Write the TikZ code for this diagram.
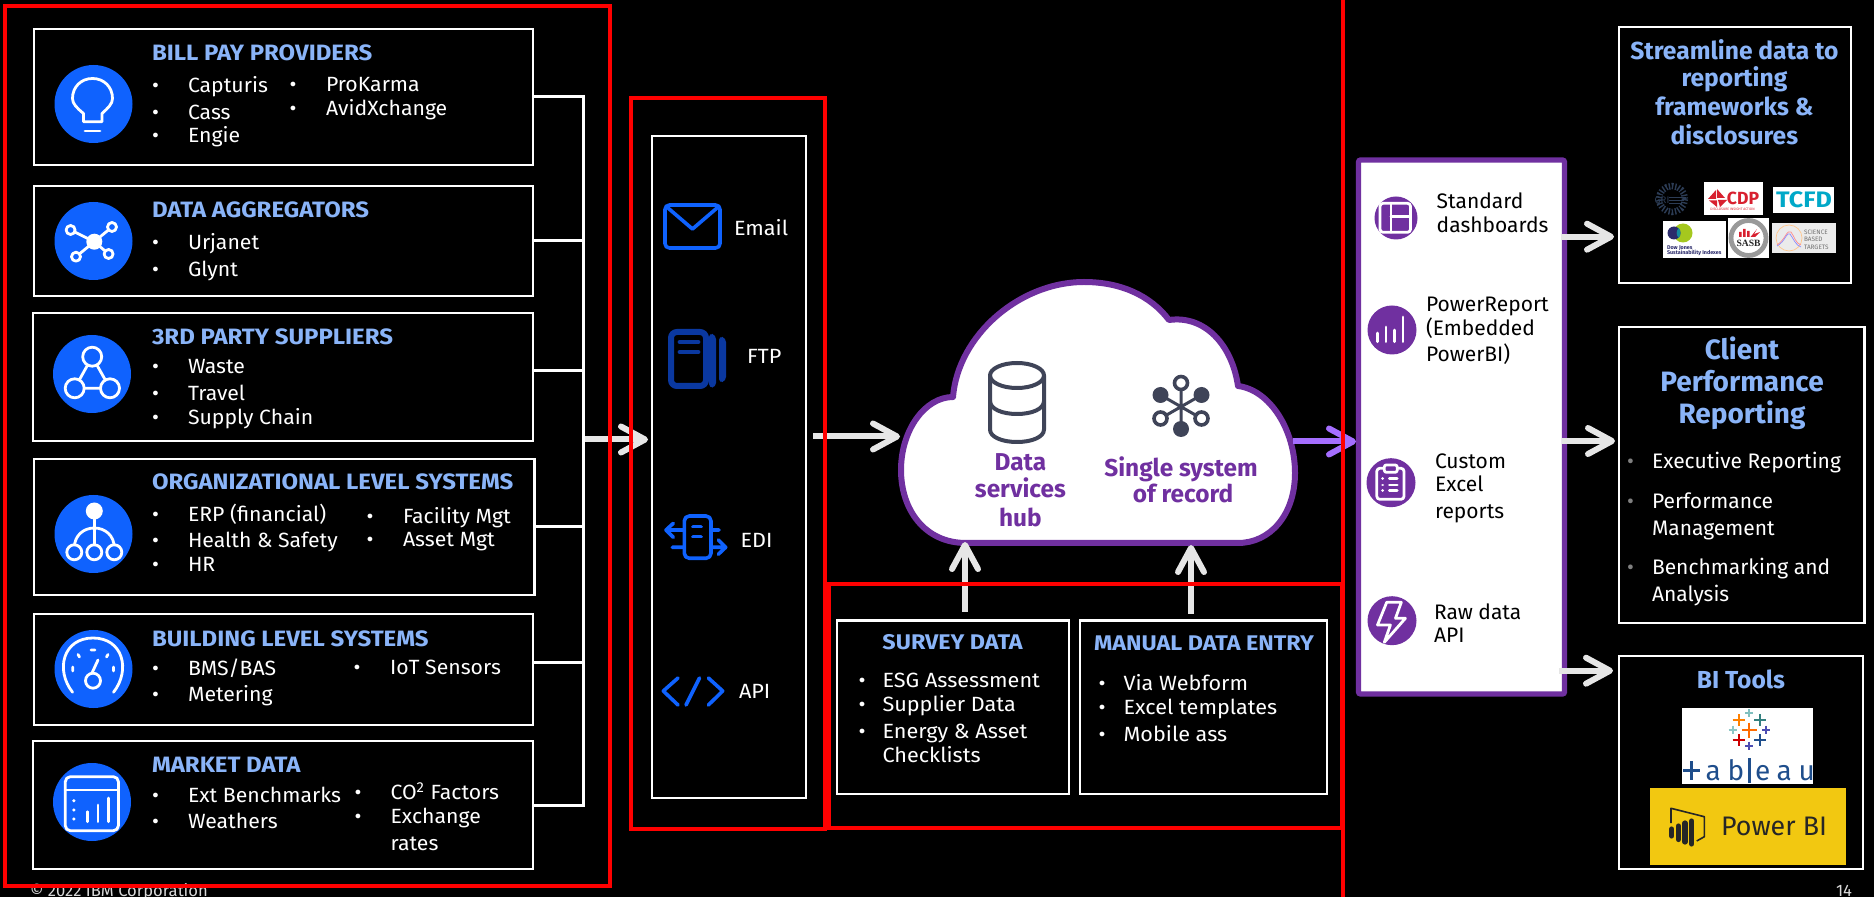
\documentclass[tikz,border=0pt]{standalone}
\usepackage{fontspec}
\usepackage{graphicx}
\setmainfont{Fira Sans}
\newfontfamily\logoserif{Liberation Serif}
\usetikzlibrary{arrows.meta}
\definecolor{hd}{HTML}{8AB4F8}
\definecolor{ibmblue}{HTML}{0F62FE}
\definecolor{ftpblue}{HTML}{0A38A0}
\definecolor{pur}{HTML}{7030A0}
\definecolor{purarrow}{HTML}{A56EFF}
\definecolor{slateicon}{HTML}{3F4458}
\definecolor{arrowgrey}{HTML}{E6E6E6}
\definecolor{griblue}{HTML}{2C3C55}
\definecolor{cdpred}{HTML}{D8202F}
\definecolor{tcfdblue}{HTML}{00A8C8}
\definecolor{pbiyellow}{HTML}{F2C811}
\definecolor{tabnavy}{HTML}{1F4E8C}
\definecolor{djnavy}{HTML}{2B2B6B}
\definecolor{djgreen}{HTML}{A5C81E}
\definecolor{djteal}{HTML}{138A9E}
\newcount\licount
\tikzset{
  every node/.style={inner sep=0pt,outer sep=0pt,font=\fontsize{10.5}{12}\selectfont,text=white},
  card/.style={draw=white,line width=1.1pt,anchor=north west,fill=black},
  redframe/.style={draw=red,line width=2pt},
  listtxt/.style={anchor=west,text height=7.4pt,text depth=0pt,font=\fontsize{10.3}{12}\selectfont\addfontfeature{FakeStretch=1.03}},
  headtxt/.style={anchor=west,text height=7.6pt,text depth=0pt,text=hd,font=\fontsize{11.1}{12}\selectfont\bfseries\addfontfeature{FakeStretch=1.08}},
  headc/.style={anchor=center,text height=7.2pt,text depth=0pt,text=hd,font=\fontsize{10.6}{12}\selectfont\bfseries\addfontfeature{FakeStretch=1.1}},
  midtxt/.style={anchor=west,text height=7.1pt,text depth=0pt,font=\fontsize{10.3}{12}\selectfont\addfontfeature{FakeStretch=1.05}},
  rtxt/.style={anchor=west,text height=7.3pt,text depth=0pt,font=\fontsize{10.5}{12}\selectfont},
  blacktxt/.style={anchor=west,text height=7.3pt,text depth=0pt,text=black,font=\fontsize{10.5}{12}\selectfont},
  titletxt/.style={anchor=center,text height=8.6pt,text depth=0pt,text=hd,font=\fontsize{12.3}{14}\selectfont\bfseries},
  bigtitle/.style={anchor=center,text height=9.8pt,text depth=0pt,text=hd,font=\fontsize{14}{16}\selectfont\bfseries},
  cloudtxt/.style={anchor=center,text height=8.4pt,text depth=0pt,text=pur,font=\fontsize{12.2}{14}\selectfont\bfseries},
  foot/.style={text=white!85!black,text height=6pt,text depth=0pt,font=\fontsize{8.3}{10}\selectfont},
  link/.style={draw=white,line width=1.5pt},
  flow/.style={draw=arrowgrey,line width=3pt,-{Straight Barb[length=12pt,width=13pt,line width=3pt,round]}},
  flowp/.style={draw=purarrow,line width=3pt,-{Straight Barb[length=12pt,width=13pt,line width=3pt,round]}},
  wicon/.style={draw=white,line width=1.4pt,line cap=round,line join=round},
  bicon/.style={draw=ibmblue,line width=1.8pt,line cap=round,line join=round},
  sicon/.style={draw=slateicon,line width=2pt,line cap=round,line join=round},
  bluedot/.style={circle,fill=ibmblue,minimum size=39pt},
  purdot/.style={circle,fill=pur},
}
\newcommand{\li}[4]{\global\advance\licount by 1
  \node[listtxt,anchor=center] (blt\the\licount) at (#1,#3) {•};
  \node[listtxt] (itm\the\licount) at (#2,#3) {#4};}
\newcommand{\lm}[4]{\global\advance\licount by 1
  \node[midtxt,anchor=center] (blt\the\licount) at (#1,#3) {•};
  \node[midtxt] (itm\the\licount) at (#2,#3) {#4};}
\newcommand{\cardbox}[5]{\node[card,minimum width={(#4-#2)*0.5pt},minimum height={(#5-#3)*0.5pt}] (#1) at (#2,#3) {};}
\newcommand{\plusmark}[4]{\draw[#4,line width=1.15pt] (#1-#3,#2) -- (#1+#3,#2) (#1,#2-#3) -- (#1,#2+#3);}
\begin{document}
\begin{tikzpicture}[x=0.5pt,y=-0.5pt]
\useasboundingbox (0,0) rectangle (1874,897);
\fill[black] (0,0) rectangle (1874,897);

% footer (under the red frame)
\node[foot,anchor=west] (copy) at (30,890) {© 2022 IBM Corporation};
\node[foot,anchor=center] (pageno) at (1844,890) {14};

% source cards
\cardbox{b1}{34}{29}{533}{165}
\cardbox{b2}{34}{186}{533}{296}
\cardbox{b3}{33}{313}{533}{441}
\cardbox{b4}{34}{459}{534.5}{595}
\cardbox{b5}{34}{614}{533}{725}
\cardbox{b6}{33}{741}{533}{869}

% bus
\coordinate (bust) at (583,95);
\coordinate (busb) at (583,806.5);
\draw[link] (bust) -- (busb);
\draw[link] (b1.east) -- (b1.east -| bust);
\draw[link] (b2.east) -- (b2.east -| bust);
\draw[link] ([yshift=3.1pt]b3.east) -- ([yshift=3.1pt]b3.east -| bust);
\draw[link] (b4.east) -- (b4.east -| bust);
\draw[link] ([yshift=3.7pt]b5.east) -- ([yshift=3.7pt]b5.east -| bust);
\draw[link] (b6.east) -- (b6.east -| bust);

% blue icon discs
\node[bluedot] (d1) at (93.5,104) {};
\node[bluedot] (d2) at (93.5,241) {};
\node[bluedot] (d3) at (92,374) {};
\node[bluedot] (d4) at (93.5,534) {};
\node[bluedot] (d5) at (93.5,669) {};
\node[bluedot] (d6) at (92,802) {};

% bulb
\draw[wicon] (83.5,113.5) .. controls (77,108) and (72.5,104) .. (72.5,98.5) .. controls (72.5,87) and (81,78.5) .. (92.5,78.5) .. controls (104,78.5) and (112.5,87) .. (112.5,98.5) .. controls (112.5,104) and (108,108) .. (102,113.5) -- (102,121.7) -- (83.5,121.7) -- cycle;
\draw[wicon] (85,131) -- (100,131);
% hub
\draw[wicon] (70.6,230) -- (94.3,241.7) -- (112,227) (76,256.7) -- (94.3,241.7) -- (108.6,254);
\fill[white] (94.3,241.7) circle[radius=8];
\foreach \p in {(70.6,230),(112,227),(76,256.7),(108.6,254)} \draw[wicon,fill=ibmblue] \p circle[radius=4.5];
% triangle
\draw[wicon] (92.2,356.7) -- (74.7,388.3) -- (110,388.3) -- cycle;
\foreach \p in {(92.2,356.7),(74.7,388.3),(110,388.3)} \draw[wicon,fill=ibmblue] \p circle[radius=9.5];
% tree
\draw[wicon] (94.3,511) -- (94.3,548);
\draw[wicon] (74.3,548) .. controls (74.3,535) and (84,528) .. (94.3,528) .. controls (104.6,528) and (114.3,535) .. (114.3,548);
\fill[white] (94.3,511) circle[radius=8.5];
\foreach \p in {(74.3,552.3),(94.3,552.3),(114.3,552.3)} \draw[wicon,fill=ibmblue] \p circle[radius=7.5];
% gauge
\draw[wicon] (72.6,692.3) .. controls (55,670) and (63,638) .. (93,638) .. controls (123,638) and (131,670) .. (113.5,692.3);
\draw[wicon] (72.7,667) -- (72.7,671) (78,654.5) -- (79.5,657) (91,650) -- (95,650) (106.5,657) -- (108,654.5) (113.5,667) -- (113.5,671);
\draw[wicon] (92,673) -- (98,660);
\draw[wicon] (93,680.7) circle[radius=7.5];
% dashboard
\draw[wicon,rounded corners=2.5pt] (65.3,776.7) rectangle (118.4,830.7);
\draw[wicon] (65.3,790) -- (118.4,790);
\draw[wicon] (87.8,821.7) -- (87.8,811.7) (98,821.7) -- (98,805) (108.2,821.7) -- (108.2,798);
\foreach \yy in {800.7,810,819} \fill[white] (73.9,\yy) circle[radius=1.7];

% card texts
\node[headtxt] (h1) at (152,52.7) {BILL PAY PROVIDERS};
\li{155.5}{188}{84.7}{Capturis}
\li{155.5}{188}{111.7}{Cass}
\li{155.5}{188}{135}{Engie}
\li{293}{326}{84}{ProKarma}
\li{293}{326}{108}{AvidXchange}
\node[headtxt] (h2) at (152,210) {DATA AGGREGATORS};
\li{155.5}{188}{242}{Urjanet}
\li{155.5}{188}{269}{Glynt}
\node[headtxt] (h3) at (152,337) {3RD PARTY SUPPLIERS};
\li{155.5}{188}{365.7}{Waste}
\li{155.5}{188}{392.7}{Travel}
\li{155.5}{188}{416.7}{Supply Chain}
\node[headtxt] (h4) at (152,481.7) {ORGANIZATIONAL LEVEL SYSTEMS};
\li{155.5}{188}{513.7}{ERP (financial)}
\li{155.5}{188}{539.7}{Health \& Safety}
\li{155.5}{188}{563.7}{HR}
\li{370}{403}{516}{Facility Mgt}
\li{370}{403}{539}{Asset Mgt}
\node[headtxt] (h5) at (152,639) {BUILDING LEVEL SYSTEMS};
\li{155.5}{188}{667.7}{BMS/BAS}
\li{155.5}{188}{694}{Metering}
\li{357}{390}{667}{IoT Sensors}
\node[headtxt] (h6) at (152,765) {MARKET DATA};
\li{155.5}{188}{795}{Ext Benchmarks}
\li{155.5}{188}{821}{Weathers}
\li{358}{390.6}{792}{CO\textsuperscript{2} Factors}
\li{358}{390.6}{816}{Exchange}
\node[listtxt] (rates) at (390.6,843) {rates};

% channels
\cardbox{chan}{652}{136}{806}{798}
\draw[bicon,rounded corners=2.2pt] (665,205) rectangle (720,248);
\draw[bicon] (668,208) -- (692.5,229) -- (717,208);
\node[midtxt] (email) at (734,228) {Email};
\fill[ftpblue,rounded corners=2pt] (709,333) -- (716,335) -- (716,387) -- (709,388) -- cycle;
\fill[ftpblue,rounded corners=2pt] (719,336) -- (726,338) -- (726,381) -- (719,383) -- cycle;
\draw[draw=ftpblue,fill=black,line width=3pt,rounded corners=3pt] (671,332) rectangle (706,386);
\draw[ftpblue,line width=2.4pt,line cap=round] (680,342) -- (698,342) (680,352) -- (698,352);
\node[midtxt] (ftp) at (747,356) {FTP};
\draw[bicon,rounded corners=2.5pt] (684.3,516) rectangle (711,558.3);
\draw[bicon] (693,526.7) -- (701,526.7) (693,536.7) -- (701,536.7);
\draw[bicon] (684,530) -- (666,530) (673.3,523.3) -- (666,530) -- (673.3,537.3);
\draw[bicon] (672.3,547.3) -- (684,547.3) (711,530) -- (719,530) (711,547.3) -- (725.7,547.3) (718.3,540) -- (725.7,547.3) -- (718.3,554.3);
\node[midtxt] (edi) at (740.5,540) {EDI};
\draw[bicon] (678,678) -- (663.3,691) -- (678,705) (699.5,678) -- (686,705) (708.4,678) -- (722.7,691) -- (708.4,705);
\node[midtxt] (api) at (739,691) {API};

% cloud
\draw[draw=pur,fill=white,line width=3pt,line join=round] (966,543) .. controls (925,543) and (901,510) .. (901,470) .. controls (901,430) and (925,397) .. (953,397) .. controls (958,335) and (1020,282) .. (1084,282) .. controls (1120,282) and (1150,295) .. (1169,320) .. controls (1205,315) and (1232,345) .. (1238,386) .. controls (1270,390) and (1295,430) .. (1295,473) .. controls (1295,515) and (1270,543) .. (1238,543) -- cycle;
\coordinate (cloudW) at (900,436.5);
\coordinate (cloudE) at (1293,441.5);
\coordinate (cloudS1) at (965,542);
\coordinate (cloudS2) at (1191,545);
% database
\draw[sicon] (1017,375.5) ellipse[x radius=27,y radius=12.5];
\draw[sicon] (990,375.5) -- (990,429.5) .. controls (990,437) and (1002,442) .. (1017,442) .. controls (1032,442) and (1044,437) .. (1044,429.5) -- (1044,375.5);
\draw[sicon] (990,401) .. controls (990,409) and (1002,414) .. (1017,414) .. controls (1032,414) and (1044,409) .. (1044,401);
% graph glyph
\draw[slateicon,line width=1.5pt] (1181,383) -- (1181,429) (1160.5,395) -- (1201.5,418.5) (1160.5,418.5) -- (1201.5,395);
\foreach \p in {(1160.5,395),(1201.5,395),(1181,429)} \fill[slateicon] \p circle[radius=8];
\foreach \p in {(1181,383),(1160.5,418.5),(1201.5,418.5)} \draw[slateicon,line width=1.8pt,fill=white] \p circle[radius=6.5];
\node[cloudtxt] (c1) at (1020.4,462) {Data};
\node[cloudtxt] (c2) at (1020.4,489) {services};
\node[cloudtxt] (c3) at (1020.4,518) {hub};
\node[cloudtxt] (c4) at (1181,468) {Single system};
\node[cloudtxt] (c5) at (1183,494) {of record};

% survey, manual
\cardbox{survey}{837}{620.5}{1069}{794}
\cardbox{manual}{1080}{620.5}{1327}{794}
\node[headc] (sh) at (952.6,642) {SURVEY DATA};
\lm{862}{882.5}{680}{ESG Assessment}
\lm{862}{882.5}{704}{Supplier Data}
\lm{862}{882.5}{731}{Energy \& Asset}
\node[midtxt] (chk) at (882.5,755) {Checklists};
\node[headc] (mh) at (1204,643) {MANUAL DATA ENTRY};
\lm{1102}{1123.6}{683}{Via Webform}
\lm{1102}{1123.6}{707}{Excel templates}
\lm{1102}{1123.6}{734}{Mobile ass}

% outputs panel
\node[card,draw=pur,line width=2.6pt,rounded corners=1pt,fill=white,minimum width=103pt,minimum height=267pt] (panel) at (1358.5,160) {};
\node[purdot,minimum size=21.5pt] (p1) at (1396,218) {};
\draw[wicon,rounded corners=1.5pt] (1380,203.3) rectangle (1410.5,232.3);
\draw[wicon] (1391,203.3) -- (1391,232.3) (1391,216.7) -- (1410.5,216.7);
\node[blacktxt] (s1) at (1436.7,201) {Standard};
\node[blacktxt] (s2) at (1436.7,225.7) {dashboards};
\node[purdot,minimum size=24.5pt] (p2) at (1392,330) {};
\draw[wicon] (1377.5,341.7) -- (1377.5,333) (1386,341.7) -- (1386,327) (1394.5,341.7) -- (1394.5,330) (1403,341.7) -- (1403,317);
\node[blacktxt] (r1) at (1426,304) {PowerReport};
\node[blacktxt] (r2) at (1426,328) {(Embedded};
\node[blacktxt] (r3) at (1426,354) {PowerBI)};
\node[purdot,minimum size=24.5pt] (p3) at (1391,482.7) {};
\draw[wicon,rounded corners=1.5pt] (1376.8,468.3) rectangle (1404,499.3);
\draw[wicon,fill=pur,rounded corners=1pt] (1384.3,465) rectangle (1397.2,472.3);
\draw[wicon] (1382.6,478.3) -- (1382.7,478.3) (1389.4,478.3) -- (1397.2,478.3) (1382.6,485) -- (1382.7,485) (1389.4,485) -- (1397.2,485) (1382.6,490.7) -- (1382.7,490.7) (1389.4,490.7) -- (1397.2,490.7);
\node[blacktxt] (x1) at (1435,461) {Custom};
\node[blacktxt] (x2) at (1435,484.7) {Excel};
\node[blacktxt] (x3) at (1435,511.7) {reports};
\node[purdot,minimum size=24.5pt] (p4) at (1392,620.7) {};
\draw[wicon] (1386.7,602.3) -- (1401.3,602.3) -- (1395.5,618.3) -- (1405.4,618.3) -- (1384.3,642.3) -- (1390.4,625) -- (1377.5,625) -- cycle;
\node[blacktxt] (a1) at (1434,612) {Raw data};
\node[blacktxt] (a2) at (1434,635.7) {API};

% target boxes
\cardbox{t1}{1619}{27}{1851}{283}
\cardbox{t2}{1619}{327.3}{1864.5}{623}
\cardbox{t3}{1619}{656}{1863}{869}
\node[titletxt] (tt1) at (1734.4,51) {Streamline data to};
\node[titletxt] (tt2) at (1734.4,78) {reporting};
\node[titletxt] (tt3) at (1734.4,107) {frameworks \&};
\node[titletxt] (tt4) at (1734.4,136) {disclosures};

% GRI logo
\draw[draw=griblue,line width=3.2pt,dash pattern=on 0.7pt off 0.9pt] (1672,199) circle[radius=13];
\node[anchor=center,text=griblue,font=\fontsize{4.8}{6}\selectfont] (gri) at (1662,200.5) {GRI};
\draw[griblue,line width=0.35pt] (1669,197) -- (1686,197) (1669,200) -- (1684,200) (1669,203) -- (1682,203);
% CDP logo
\fill[white] (1704,182) rectangle (1762.7,215);
\fill[cdpred] (1708,199) -- (1716,190) -- (1716,199) -- cycle (1717,189) -- (1725,198) -- (1717,198) -- cycle (1709,200.5) -- (1717,200.5) -- (1717,207) -- cycle (1718,200) -- (1727,200) -- (1720,207) -- cycle;
\node[anchor=center,text=cdpred,font=\fontsize{8.8}{10}\selectfont\bfseries] (cdp) at (1743,198) {CDP};
\node[anchor=center,text=cdpred,font=\fontsize{1.7}{2.5}\selectfont] (cdp2) at (1732.5,209) {DISCLOSURE INSIGHT ACTION};
% TCFD logo
\fill[white] (1773,187) rectangle (1834,213);
\node[anchor=center,text=tcfdblue,font=\fontsize{11.2}{12}\selectfont\bfseries\addfontfeature{FakeStretch=1.12}] (tcfd) at (1804,200) {TCFD};
% DJSI logo
\fill[white] (1663,221) rectangle (1725.7,258);
\fill[djgreen] (1683,233) circle[radius=9.5];
\fill[djnavy] (1674,233) circle[radius=6.5];
\fill[djteal] (1678.7,228) .. controls (1681,231) and (1681,235) .. (1678.7,238) .. controls (1676,235) and (1676,231) .. (1678.7,228);
\node[anchor=west,text=djnavy,font=\fontsize{2.7}{3}\selectfont\bfseries] (dj1) at (1667,248.5) {Dow Jones};
\node[anchor=west,text=djnavy,font=\fontsize{2.7}{3}\selectfont\bfseries] (dj2) at (1667,252.5) {Sustainability Indexes};
% SASB logo
\fill[white] (1728,218) rectangle (1769,258);
\draw[black!40,line width=2.4pt] (1748.5,238) circle[radius=17.5];
\fill[cdpred] (1739,237) rectangle (1741.5,232) (1743,237) rectangle (1745.5,229) (1747,237) rectangle (1749.5,231);
\fill[cdpred] (1750.5,237) -- (1757,229) -- (1754,234) -- (1760,232) -- (1755,237) -- cycle;
\node[anchor=center,text=black!85,font=\fontsize{4.8}{5}\selectfont\logoserif\bfseries] (sasb) at (1748.5,243) {SASB};
% SBT logo
\fill[white!92!black] (1772,223) rectangle (1836,253);
\draw[orange!45,line width=0.35pt] (1789,238) circle[radius=13];
\draw[red!45,line width=0.35pt] (1777,245) .. controls (1785,240) and (1787,229) .. (1791,232) .. controls (1794,236) and (1796,244) .. (1801,245);
\draw[blue!45,line width=0.35pt] (1777,246) .. controls (1785,242) and (1787,231) .. (1790,234) .. controls (1793,238) and (1796,246) .. (1801,247);
\node[anchor=west,text=black!55,align=left,font=\fontsize{3.2}{3.7}\selectfont] (sbt) at (1804,239.5) {SCIENCE\\BASED\\TARGETS};

\node[bigtitle] (ct1) at (1742,350) {Client};
\node[bigtitle] (ct2) at (1742,382) {Performance};
\node[bigtitle] (ct3) at (1742,414) {Reporting};
\node[rtxt,anchor=center,text=black!50!white] (cb1) at (1630.5,461) {•};
\node[rtxt,anchor=center,text=black!50!white] (cb2) at (1630.5,501.7) {•};
\node[rtxt,anchor=center,text=black!50!white] (cb3) at (1630.5,567.7) {•};
\node[rtxt] (ci1) at (1652,461) {Executive Reporting};
\node[rtxt] (ci2) at (1652,501.7) {Performance};
\node[rtxt] (ci3) at (1652,528) {Management};
\node[rtxt] (ci4) at (1652,567.7) {Benchmarking and};
\node[rtxt] (ci5) at (1652,594.7) {Analysis};
\node[titletxt] (bi) at (1741,680) {BI Tools};

% tableau
\fill[white] (1682,708) rectangle (1813,784);
\plusmark{1749.3}{730}{7.5}{orange!85!red}
\plusmark{1738.7}{720}{6}{orange}
\plusmark{1760}{720}{6}{teal!60!gray}
\plusmark{1749.3}{713.3}{4}{teal!50!white}
\plusmark{1732.7}{729.7}{4}{teal!45!white}
\plusmark{1766}{729.7}{4}{blue!40!gray}
\plusmark{1738.7}{740}{6}{red!80!black}
\plusmark{1760}{740}{6}{tabnavy}
\plusmark{1749.3}{745.7}{4}{blue!40!gray}
\node[anchor=base,text=tabnavy,font=\fontsize{14}{16}\selectfont\addfontfeature{LetterSpace=24}] (tab1) at (1725,780) {ab};
\node[anchor=base,text=tabnavy,font=\fontsize{14}{16}\selectfont\addfontfeature{LetterSpace=24}] (tab2) at (1785,780) {eau};
\draw[tabnavy,line width=1.5pt] (1683,770) -- (1700,770) (1691.7,761) -- (1691.7,780);
\draw[tabnavy,line width=1.3pt] (1749.3,758) -- (1749.3,783);
% power bi
\fill[pbiyellow] (1650,787.7) rectangle (1846,865);
\draw[black!85,line width=0.8pt,line join=round] (1671,823) -- (1671,808.3) -- (1704.3,816.7) -- (1704.3,836.7) -- (1696.7,841);
\draw[black!85,line width=2.6pt,line cap=round] (1671.7,829) -- (1671.7,836) (1678.3,826) -- (1678.3,839.5) (1685,823) -- (1685,842) (1691.7,821) -- (1691.7,844);
\node[anchor=center,text=black!85,text height=8.2pt,text depth=0pt,font=\fontsize{13.4}{16}\selectfont\mdseries] (pbi) at (1774,827) {Power BI};

% arrows
\coordinate (a1s) at (585,439.5);
\coordinate (a1e) at (648,439.5);
\draw[flow] (a1s) -- (a1e);
\coordinate (a2s) at (813,436.5);
\draw[flow] (a2s) -- (cloudW);
\coordinate (a3e) at (1356,441.5);
\draw[flowp] (cloudE) -- (a3e);
\coordinate (u1) at (965,612);
\draw[flow] (u1) -- (cloudS1);
\coordinate (u2) at (1191,614);
\draw[flow] (u2) -- (cloudS2);
\coordinate (o1s) at (1560.7,236.7); \coordinate (o1e) at (1614,236.7);
\coordinate (o2s) at (1562,441);     \coordinate (o2e) at (1615,441);
\coordinate (o3s) at (1559,670.7);   \coordinate (o3e) at (1613,670.7);
\draw[flow] (o1s) -- (o1e);
\draw[flow] (o2s) -- (o2e);
\draw[flow] (o3s) -- (o3e);

% red frames
\draw[redframe] (5,6) rectangle (610,886);
\draw[redframe] (631,98) rectangle (825,829);
\draw[redframe] (829,584) rectangle (1342,828);
\draw[redframe] (1343,0) -- (1343,897);
\end{tikzpicture}
\end{document}
